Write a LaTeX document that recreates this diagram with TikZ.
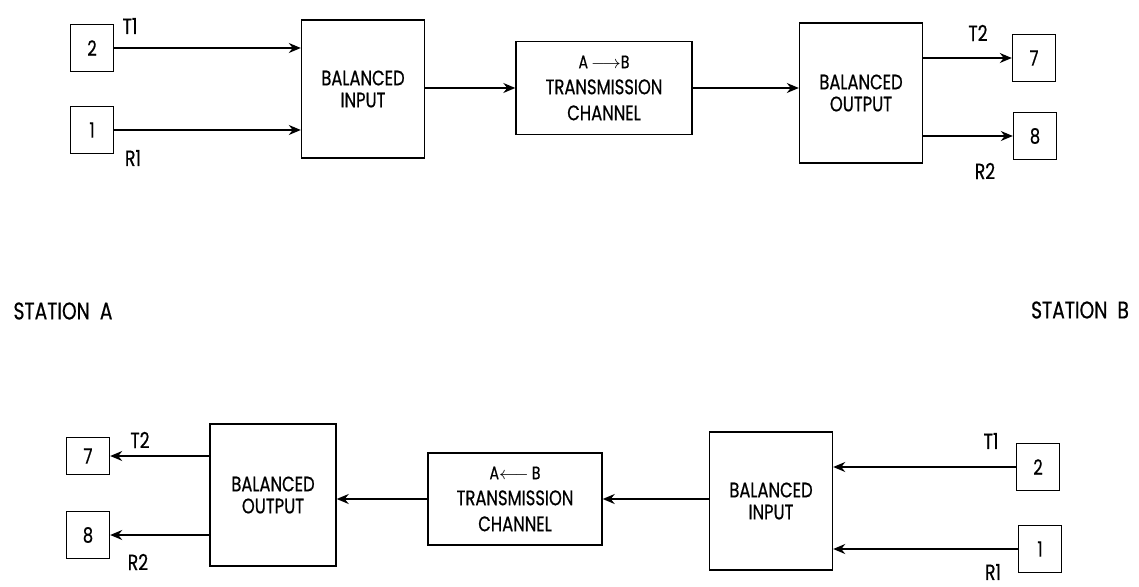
\documentclass[tikz,border=0pt]{standalone}
\usepackage{fontspec}
\setmainfont{Poppins}[FakeStretch=0.78, FakeBold=0.6]
\usetikzlibrary{arrows.meta}
\tikzset{
    block/.style={draw, rectangle, minimum width=61.5pt, minimum height=70pt, align=center, inner sep=0pt, font=\fontsize{10.5}{11}\selectfont},
    channel/.style={draw, rectangle, minimum width=88pt, minimum height=46.5pt, align=center, inner sep=0pt, font=\fontsize{10.5}{13}\selectfont},
    pin/.style={draw, rectangle, minimum width=21.5pt, minimum height=23.5pt, inner sep=0pt, font=\fontsize{10.5}{12}\selectfont},
    tag/.style={inner sep=0pt, font=\fontsize{11}{12}\selectfont},
    station/.style={inner sep=0pt, font=\fontsize{12}{14}\selectfont},
    arrow/.style={-{Stealth[length=6pt, width=5pt]}}
}

\begin{document}
\begin{tikzpicture}[x=0.5pt, y=-0.5pt, line width=0.7pt]
\useasboundingbox (0,0) rectangle (1139,587);

% station A -> station B
\node[pin] (a2) at (92,48) {2};
\node[pin] (a1) at (92,130) {1};
\node[block, minimum height=69pt] (inA) at (363,89) {BALANCED\\INPUT};
\node[channel] (chAB) at (604,88) {{\fontsize{9}{10}\selectfont A\,$\longrightarrow$B}\\TRANSMISSION\\CHANNEL};
\node[block] (outB) at (861,93) {BALANCED\\OUTPUT};
\node[pin] (b7) at (1034,58) {7};
\node[pin] (b8) at (1035,136) {8};
\draw[arrow] (a2.east) -- (a2.east -| inA.west);
\draw[arrow] (a1.east) -- (a1.east -| inA.west);
\draw[arrow] (chAB.west -| inA.east) -- (chAB.west);
\draw[arrow] (chAB.east) -- (chAB.east -| outB.west);
\draw[arrow] (b7.west -| outB.east) -- (b7.west);
\draw[arrow] (b8.west -| outB.east) -- (b8.west);
\node[tag] (ta1) at (130,26) {T1};
\node[tag] (ra1) at (133,158) {R1};
\node[tag] (tb2) at (978,33) {T2};
\node[tag] (rb2) at (985,171) {R2};

\node[station] (stA) at (63,311) {STATION\ \ A};
\node[station] (stB) at (1080,310) {STATION\ \ B};

% station B -> station A
\node[pin, minimum height=18.5pt] (a7) at (88,456) {7};
\node[pin] (a8) at (88,535) {8};
\node[block, minimum width=63pt, minimum height=71pt] (outA) at (273,495) {BALANCED\\OUTPUT};
\node[channel, minimum width=87pt, minimum height=46pt] (chBA) at (515,499) {{\fontsize{9}{10}\selectfont A$\longleftarrow$\,B}\\TRANSMISSION\\CHANNEL};
\node[block, minimum height=69pt] (inB) at (771,501) {BALANCED\\INPUT};
\node[pin] (b2) at (1038,467) {2};
\node[pin] (b1) at (1040,549) {1};
\draw[arrow] (b2.west) -- (b2.west -| inB.east);
\draw[arrow] (b1.west) -- (b1.west -| inB.east);
\draw[arrow] (inB.west |- chBA.east) -- (chBA.east);
\draw[arrow] (chBA.west) -- (chBA.west -| outA.east);
\draw[arrow] (a7.east -| outA.west) -- (a7.east);
\draw[arrow] (a8.east -| outA.west) -- (a8.east);
\node[tag] (ta2) at (140,440) {T2};
\node[tag] (ra2) at (138,562) {R2};
\node[tag] (tb1) at (991,441) {T1};
\node[tag] (rb1) at (993,572) {R1};
\end{tikzpicture}
\end{document}
